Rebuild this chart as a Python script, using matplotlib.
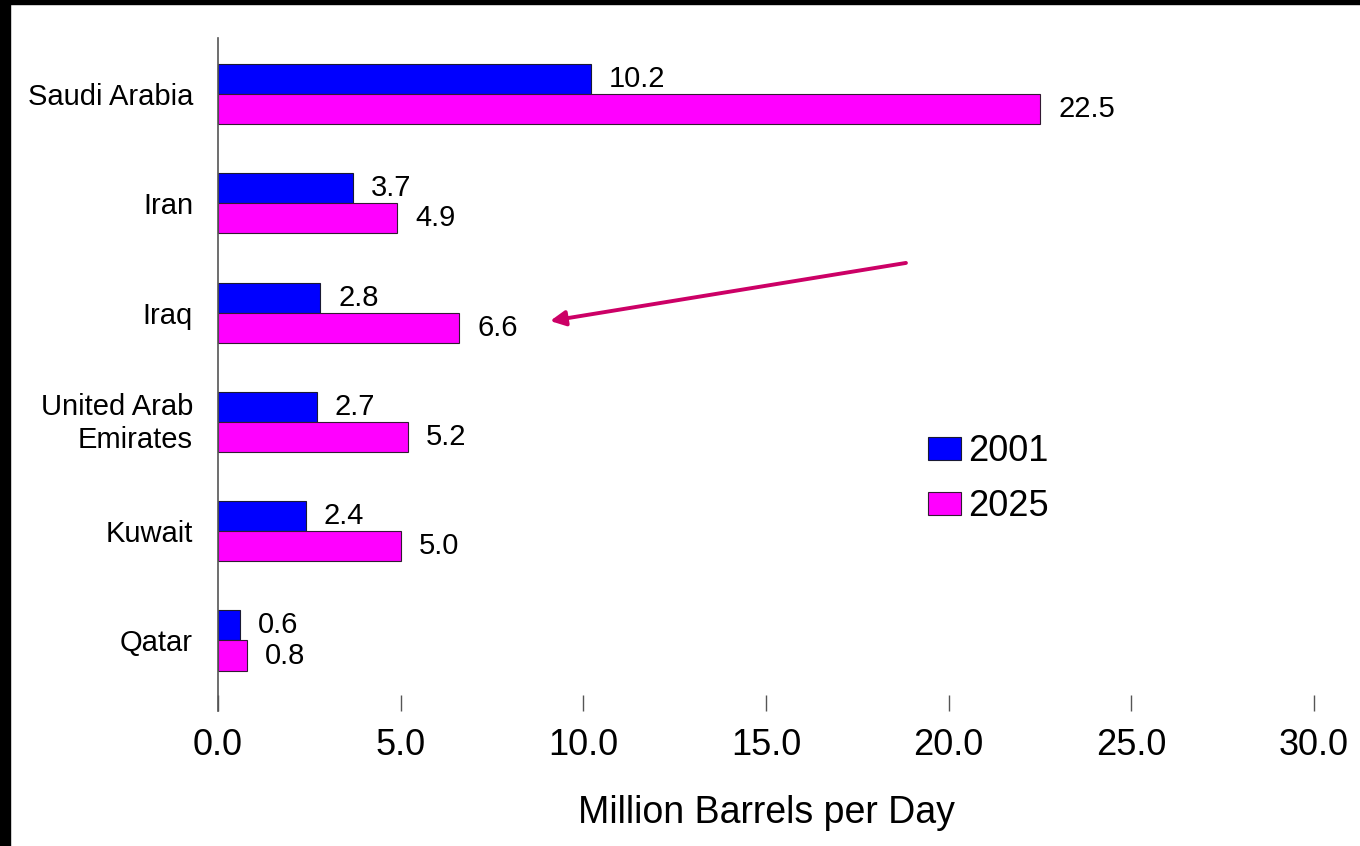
import matplotlib.pyplot as plt
import matplotlib.patches as mpatches
import matplotlib.transforms as mtransforms
import numpy as np

""" Data """

countries = ["Saudi Arabia", "Iran", "Iraq", "United Arab\nEmirates", "Kuwait", "Qatar"]
prod_2001 = [10.2, 3.7, 2.8, 2.7, 2.4, 0.6]
prod_2025 = [22.5, 4.9, 6.6, 5.2, 5.0, 0.8]
years = ["2001", "2025"]
x_ticks = [0, 5, 10, 15, 20, 25, 30]

""" Plot """

plt.rcParams['font.family'] = ['Liberation Sans', 'DejaVu Sans']

fig = plt.figure(figsize=(13.6, 8.46), dpi=100)
ax = fig.add_axes([0.1603, 0.1596, 0.8059, 0.7955])

y = np.arange(len(countries))
h = 0.275
bars1 = ax.barh(y - h / 2, prod_2001, height=h, color="#0000FF", edgecolor="#1a1a33", linewidth=0.8, label=years[0])
bars2 = ax.barh(y + h / 2, prod_2025, height=h, color="#FF00FF", edgecolor="#331a33", linewidth=0.8, label=years[1])

for bars, vals in [(bars1, prod_2001), (bars2, prod_2025)]:
    for b, v in zip(bars, vals):
        ax.annotate("%.1f" % v, (v, b.get_y() + b.get_height() / 2), xytext=(13, 0),
                    textcoords="offset points", ha="left", va="center", fontsize=21)

ax.set_xlim(0, 30)
ax.set_ylim(5.645, -0.512)
ax.set_yticks(y)
ax.set_yticklabels(countries, fontsize=21, linespacing=1.25)
ax.set_xticks(x_ticks)
ax.set_xticklabels(["%.1f" % t for t in x_ticks], fontsize=26)
ax.tick_params(axis="y", length=0, pad=18)
ax.tick_params(axis="x", direction="in", length=11.5, width=1, color="#555555", pad=12)
ax.set_xlabel("Million Barrels per Day", fontsize=27, labelpad=23)

# nudge the two-line label up a little
for lbl in ax.get_yticklabels():
    if "\n" in lbl.get_text():
        lbl.set_transform(lbl.get_transform() + mtransforms.ScaledTranslation(0, 3 / 72, fig.dpi_scale_trans))

for s in ["top", "right", "bottom"]:
    ax.spines[s].set_visible(False)
ax.spines["left"].set_color("#555555")
ax.spines["left"].set_linewidth(1.2)

# pointer toward Iraq's 2025 value
ax.annotate("", xy=(9.09, 2.077), xytext=(18.83, 1.546),
            arrowprops=dict(arrowstyle="-|>,head_length=0.9,head_width=0.45", color="#CC0066", lw=2.8,
                            shrinkA=0, shrinkB=0))

leg = fig.legend(handles=[bars1, bars2], labels=years, loc="upper left",
                 bbox_to_anchor=(928 / 1360, 1 - 434 / 846), bbox_transform=fig.transFigure,
                 frameon=False, fontsize=26, borderpad=0, borderaxespad=0,
                 handlelength=0.92, handleheight=0.6, handletextpad=0.2, labelspacing=0.55)

# dark frame edges along the top and left
fig.patches.append(mpatches.Rectangle((0, 1 - 4 / 846), 1, 4 / 846, transform=fig.transFigure,
                                      color="black", zorder=10))
fig.patches.append(mpatches.Rectangle((0, 0), 10 / 1360, 1, transform=fig.transFigure,
                                      color="black", zorder=10))

fig.savefig("out.png", dpi=100)
